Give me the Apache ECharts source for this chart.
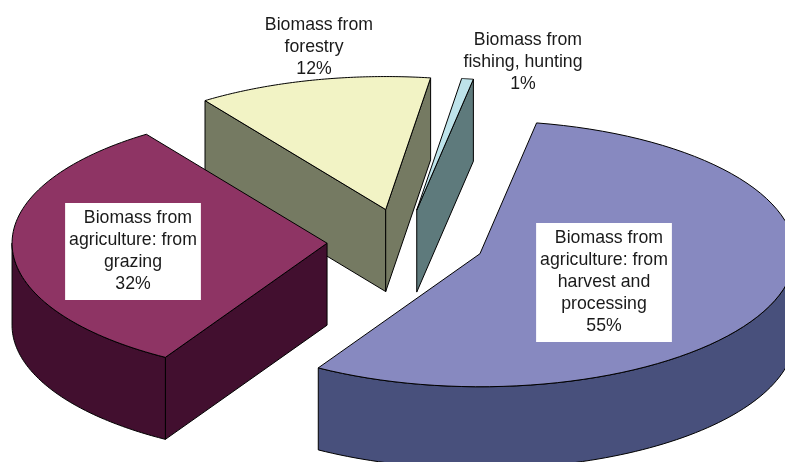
<!DOCTYPE html>
<html>
<head>
<meta charset="utf-8">
<style>html,body{margin:0;padding:0;background:#fff}#c{width:785px;height:462px}</style>
<script src="https://cdn.jsdelivr.net/npm/echarts@6/dist/echarts.min.js"></script>
</head>
<body>
<div id="c"></div>
<script>
var categories = [
  'Biomass from\nforestry',
  'Biomass from\nfishing, hunting',
  'Biomass from\nagriculture: from\nharvest and\nprocessing',
  'Biomass from\nagriculture: from\ngrazing'
];
var values = [12.0, 0.6, 55.7, 31.7];
var percentLabels = ['12%', '1%', '55%', '32%'];

var topColors = ['#F2F3C5', '#BEE3EA', '#8789C0', '#8E3464'];
var sideColors = ['#757A62', '#5E7A7C', '#48507C', '#420F2F'];
var labelCentres = [[314, 47], [523, 62], [604, 282.5], [133, 251.5]];
var labelPadding = [0, 0, [6, 4, 3, 4], [5, 4, 4, 4]];
var labelBoxed = [false, false, true, true];
var sliceNudge = [[-1, -1], [-1, 0], [1, -1], [1, -1]];

var view = { cx: 405, cy: 243, rx: 315, ry: 133, depth: 82, explode: 79, startAngle: 325 };

var total = values.reduce(function (a, b) { return a + b; }, 0);
function angleBefore(i) {
  var s = 0;
  for (var k = 0; k < i; k++) s += values[k];
  return view.startAngle + s / total * 360;
}
function rad(d) { return d * Math.PI / 180; }

function renderSlice(params, api) {
  var i = params.dataIndex;
  var a0 = angleBefore(i);
  var a1 = a0 + api.value(0) / total * 360;
  var mid = rad((a0 + a1) / 2);
  var ox = view.cx + view.explode * Math.sin(mid) + sliceNudge[i][0];
  var oy = view.cy - view.explode * Math.cos(mid) * view.ry / view.rx + sliceNudge[i][1];
  function pt(deg) {
    return [ox + view.rx * Math.sin(rad(deg)), oy - view.ry * Math.cos(rad(deg))];
  }
  function down(p) { return [p[0], p[1] + view.depth]; }
  function poly(points, fill) {
    return { type: 'polygon', shape: { points: points },
      style: { fill: fill, stroke: '#000', lineWidth: 1, lineJoin: 'round' } };
  }
  var apex = [ox, oy];
  var children = [];
  // cut faces that look toward the viewer
  if (Math.sin(rad(a0)) < 0) {
    var p0 = pt(a0);
    children.push(poly([apex, p0, down(p0), down(apex)], sideColors[i]));
  }
  if (Math.sin(rad(a1)) > 0) {
    var p1 = pt(a1);
    children.push(poly([apex, p1, down(p1), down(apex)], sideColors[i]));
  }
  // outer wall: only the part that faces the viewer (90..270 deg)
  for (var turn = 0; turn <= 360; turn += 360) {
    var from = Math.max(a0, 90 + turn), to = Math.min(a1, 270 + turn);
    if (to > from) {
      var upper = [], lower = [];
      for (var t = 0; t <= 80; t++) {
        var p = pt(from + (to - from) * t / 80);
        upper.push(p);
        lower.unshift(down(p));
      }
      children.push(poly(upper.concat(lower), sideColors[i]));
    }
  }
  // top face
  var top = [apex];
  for (var t2 = 0; t2 <= 80; t2++) top.push(pt(a0 + (a1 - a0) * t2 / 80));
  children.push(poly(top, topColors[i]));
  // label
  children.push({
    type: 'text',
    z2: 100,
    style: {
      text: '  ' + categories[i] + '\n' + percentLabels[i],
      x: labelCentres[i][0], y: labelCentres[i][1],
      align: 'center', verticalAlign: 'middle',
      font: '17.7px "Liberation Sans", Arial, sans-serif',
      lineHeight: 22,
      fill: '#1a1a1a',
      backgroundColor: labelBoxed[i] ? '#fff' : 'transparent',
      padding: labelPadding[i]
    }
  });
  return { type: 'group', children: children };
}

var chart = echarts.init(document.getElementById('c'), null, { renderer: 'canvas' });
chart.setOption({
  animation: false,
  backgroundColor: '#fff',
  series: [{
    type: 'custom',
    coordinateSystem: 'none',
    silent: true,
    renderItem: renderSlice,
    data: values.map(function (v, i) { return { name: categories[i], value: [v] }; })
  }]
});
</script>
</body>
</html>
